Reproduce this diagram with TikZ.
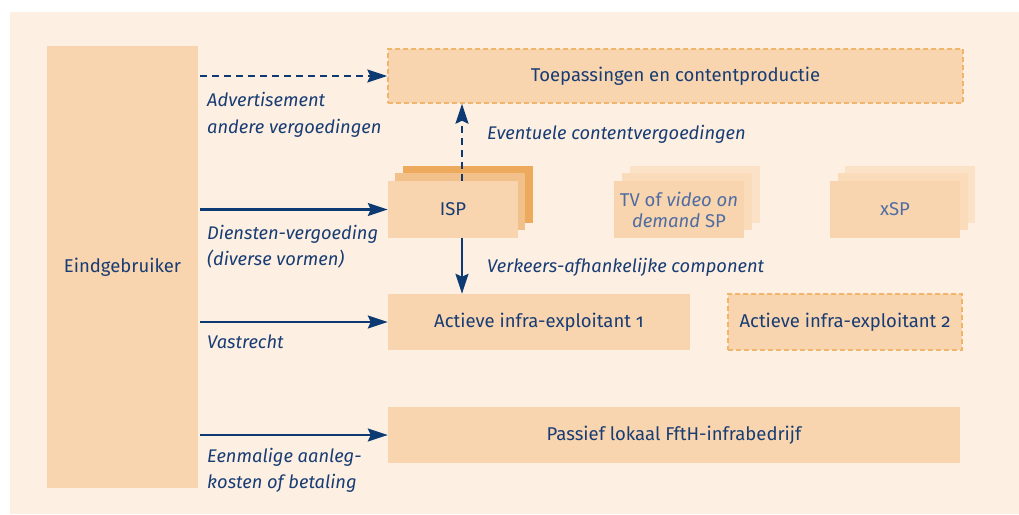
\documentclass[tikz,border=0pt]{standalone}
\usepackage{fontspec}
\setmainfont{Fira Sans}[Numbers=OldStyle]
\usetikzlibrary{arrows.meta}
\definecolor{bgc}{HTML}{FDEFE1}
\definecolor{boxc}{HTML}{F8D5AE}
\definecolor{midc}{HTML}{F2C08A}
\definecolor{backc}{HTML}{EDAA5C}
\definecolor{fadeA}{HTML}{FADCBB}
\definecolor{fadeB}{HTML}{FBE2C6}
\definecolor{dashc}{HTML}{F0B46A}
\definecolor{txtc}{HTML}{183C74}
\definecolor{fadetxt}{HTML}{4F6DA3}
\definecolor{arrc}{HTML}{0E3A73}
\tikzset{
  box/.style={fill=boxc, inner sep=0pt, text=txtc, font=\fontsize{18.5}{22}\selectfont, align=center},
  dbox/.style={box, draw=dashc, line width=1.4pt, dash pattern=on 5pt off 3pt},
  arr/.style={draw=arrc, line width=2.2pt, -{Stealth[length=20pt,width=13pt,inset=3pt]}},
  lbl/.style={text=txtc, font=\fontsize{18.3}{22}\selectfont\itshape, inner sep=0pt, anchor=base west}
}
\begin{document}
\begin{tikzpicture}[x=1pt,y=-1pt]
\useasboundingbox (0,0) rectangle (1019,514);
\fill[bgc] (10,12) rectangle (1019,514);
% Eindgebruiker
\node[box, minimum width=151pt, minimum height=442pt] (eg) at (122.5,267) {Eindgebruiker};
% Toepassingen
\node[dbox, minimum width=575pt, minimum height=54pt] (toep) at (675.5,76) {Toepassingen en contentproductie};
% ISP stack
\fill[backc] (403,166) rectangle (533,223);
\fill[midc] (395,173) rectangle (525,230);
\node[box, minimum width=130pt, minimum height=57pt] (isp) at (453,209.5) {ISP};
% TV stack
\fill[fadeB] (630,166) rectangle (760,223);
\fill[fadeA] (622,173) rectangle (752,230);
\node[box, text=fadetxt, minimum width=130pt, minimum height=57pt] (tv) at (679,209.5) {TV of \textit{video on}\\[-1pt]\textit{demand} SP};
% xSP stack
\fill[fadeB] (845,166) rectangle (975,223);
\fill[fadeA] (838,173) rectangle (968,230);
\node[box, text=fadetxt, minimum width=130pt, minimum height=57pt] (xsp) at (895,209.5) {xSP};
% Actieve
\node[box, minimum width=302pt, minimum height=56pt] (act1) at (539,322) {Actieve infra-exploitant 1};
\node[dbox, minimum width=234pt, minimum height=56pt] (act2) at (845,322) {Actieve infra-exploitant 2};
% Passief
\node[box, minimum width=572pt, minimum height=56pt] (pas) at (674,435) {Passief lokaal FftH-infrabedrijf};
% arrows
\coordinate (vx) at (462,0);
\draw[arr, dash pattern=on 7pt off 5pt] ([xshift=2pt]eg.east |- toep.west) -- (toep.west);
\draw[arr] ([xshift=2pt]eg.east |- isp.west) -- (isp.west);
\draw[arr] ([xshift=2pt]eg.east |- act1.west) -- (act1.west);
\draw[arr] ([xshift=2pt]eg.east |- pas.west) -- (pas.west);
\draw[arr, dash pattern=on 7pt off 5pt] (vx |- isp.north) -- (vx |- toep.south);
\draw[arr] (vx |- isp.south) -- (vx |- act1.north);
% labels
\node[lbl] (l1) at (207,106.5) {Advertisement};
\node[lbl] (l2) at (207,133) {andere vergoedingen};
\node[lbl] (l3) at (487,139) {Eventuele contentvergoedingen};
\node[lbl] (l4) at (207,239) {Diensten-vergoeding};
\node[lbl] (l5) at (207,265.5) {(diverse vormen)};
\node[lbl] (l6) at (487,272) {Verkeers-afhankelijke component};
\node[lbl] (l7) at (207,348) {Vastrecht};
\node[lbl] (l8) at (207,462) {Eenmalige aanleg-};
\node[lbl] (l9) at (207,488) {kosten of betaling};
\end{tikzpicture}
\end{document}
